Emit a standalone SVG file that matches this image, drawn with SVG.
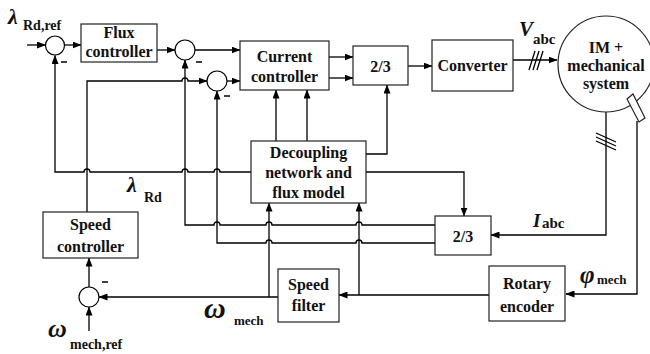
<svg xmlns="http://www.w3.org/2000/svg" width="650" height="354" viewBox="0 0 650 354">
  <defs>
    <marker id="arr" markerUnits="userSpaceOnUse" markerWidth="9" markerHeight="7" refX="8.5" refY="3.5" orient="auto">
      <path d="M0,0 L9,3.5 L0,7 z" fill="#000"/>
    </marker>
    <style>
      .box { fill: #fff; stroke: #222; stroke-width: 1.2; }
      .sum { fill: #fff; stroke: #000; stroke-width: 1.2; }
      .ln { fill: none; stroke: #000; stroke-width: 1.3; }
      .a { marker-end: url(#arr); }
      .t { font-family: "Liberation Serif", "Times New Roman", serif; font-weight: bold; font-size: 16px; text-anchor: middle; fill: #111; }
      .lbl { font-family: "Liberation Serif", "Times New Roman", serif; font-weight: bold; fill: #111; }
      .gk { font-style: italic; }
      .sub { font-style: normal; }
      .minus { stroke: #000; stroke-width: 1.5; }
    </style>
  </defs>

  <rect width="650" height="354" fill="#fff"/>

  <!-- connectors -->
  <g id="connectors">
    <path class="ln a" d="M27,45 H45.5"/>
    <path class="ln a" d="M64.5,45 H81"/>
    <path class="ln a" d="M157,50 H175"/>
    <path class="ln a" d="M195,50 H240"/>
    <path class="ln a" d="M87,212 V81 H182 a3,3 0 0 1 6,0 H207"/>
    <path class="ln a" d="M227,81 H240"/>
    <path class="ln a" d="M329,57 H353"/>
    <path class="ln a" d="M329,78 H353"/>
    <path class="ln a" d="M408,66 H432"/>
    <path class="ln a" d="M513,60 H557"/>
    <path class="ln a" d="M606,112 V235 H491"/>
    <path class="ln a" d="M637,121 V294 H566"/>
    <path class="ln a" d="M489,295 H339"/>
    <path class="ln a" d="M359,295 V203"/>
    <path class="ln a" d="M278,297 H99"/>
    <path class="ln a" d="M269,297 V203"/>
    <path class="ln a" d="M89,287 V258"/>
    <path class="ln a" d="M89,331 V307"/>
    <path class="ln a" d="M276,141 V90"/>
    <path class="ln a" d="M307,141 V90"/>
    <path class="ln a" d="M366,154 H387 V85"/>
    <path class="ln a" d="M366,172 H464 V216"/>
    <!-- flux feedback to the first summing point -->
    <path class="ln a" d="M251,172 H220 a3,3 0 0 0 -6,0 H188 a3,3 0 0 0 -6,0 H90 a3,3 0 0 0 -6,0 H55 V55.5"/>
    <!-- d-axis current feedback -->
    <path class="ln a" d="M435,225 H362 a3,3 0 0 0 -6,0 H272 a3,3 0 0 0 -6,0 H220 a3,3 0 0 0 -6,0 H185 V60"/>
    <!-- q-axis current feedback -->
    <path class="ln a" d="M435,243 H362 a3,3 0 0 0 -6,0 H272 a3,3 0 0 0 -6,0 H217 V91"/>
    <!-- three-phase hatches -->
    <path class="ln" d="M529,70 L535,51 M533,70 L539,51 M537,70 L543,51"/>
    <path class="ln" d="M596,133 L616,142 M596,137 L616,146 M596,141 L616,150"/>
  </g>

  <!-- summing points -->
  <g id="sum1"><circle class="sum" cx="55" cy="45.5" r="9.5"/><line class="minus" x1="61" y1="62" x2="67" y2="62"/></g>
  <g id="sum2"><circle class="sum" cx="185" cy="50" r="10"/><line class="minus" x1="196" y1="62" x2="202" y2="62"/></g>
  <g id="sum3"><circle class="sum" cx="217" cy="81" r="10"/><line class="minus" x1="224" y1="96" x2="230" y2="96"/></g>
  <g id="sum4"><circle class="sum" cx="89" cy="297" r="10"/><line class="minus" x1="102" y1="282" x2="108" y2="282"/></g>

  <!-- blocks -->
  <g id="flux-controller">
    <rect class="box" x="81" y="24" width="76" height="38"/>
    <text class="t" x="119" y="38">Flux</text>
    <text class="t" x="119" y="57">controller</text>
  </g>
  <g id="current-controller">
    <rect class="box" x="240" y="41" width="89" height="49"/>
    <text class="t" x="284.5" y="62">Current</text>
    <text class="t" x="284.5" y="82">controller</text>
  </g>
  <g id="dq-abc">
    <rect class="box" x="353" y="46" width="55" height="39"/>
    <text class="t" x="380.5" y="72">2/3</text>
  </g>
  <g id="converter">
    <rect class="box" x="432" y="40" width="81" height="51"/>
    <text class="t" x="472.5" y="71">Converter</text>
  </g>
  <g id="motor">
    <circle class="box" cx="606" cy="64" r="48"/>
    <text class="t" x="606" y="53">IM +</text>
    <text class="t" x="606" y="71">mechanical</text>
    <text class="t" x="606" y="89">system</text>
    <polygon points="627,99 633,94 645,118 639,122" fill="#fff" stroke="#222" stroke-width="1.2"/>
  </g>
  <g id="decoupling">
    <rect class="box" x="251" y="141" width="115" height="62"/>
    <text class="t" x="308.5" y="158">Decoupling</text>
    <text class="t" x="308.5" y="178">network and</text>
    <text class="t" x="308.5" y="198">flux model</text>
  </g>
  <g id="abc-dq">
    <rect class="box" x="435" y="216" width="56" height="39"/>
    <text class="t" x="463" y="242">2/3</text>
  </g>
  <g id="speed-controller">
    <rect class="box" x="43" y="212" width="95" height="46"/>
    <text class="t" x="90.5" y="230">Speed</text>
    <text class="t" x="90.5" y="252">controller</text>
  </g>
  <g id="speed-filter">
    <rect class="box" x="278" y="269" width="61" height="53"/>
    <text class="t" x="308.5" y="290">Speed</text>
    <text class="t" x="308.5" y="311">filter</text>
  </g>
  <g id="rotary-encoder">
    <rect class="box" x="489" y="266" width="76" height="55"/>
    <text class="t" x="527" y="289">Rotary</text>
    <text class="t" x="527" y="312">encoder</text>
  </g>

  <!-- signal labels -->
  <g id="labels">
    <text class="lbl" x="8" y="24"><tspan class="gk" style="font-size:22px">λ</tspan><tspan class="sub" style="font-size:14px" x="23" y="30">Rd,ref</tspan></text>
    <text class="lbl" x="127" y="192"><tspan class="gk" style="font-size:22px">λ</tspan><tspan class="sub" style="font-size:14px" x="144" y="202">Rd</tspan></text>
    <text class="lbl gk" x="519" y="36" style="font-size:21px">V</text>
    <text class="lbl sub" x="533" y="44" style="font-size:15px">abc</text>
    <text class="lbl" x="533" y="227"><tspan class="gk" style="font-size:19px">I</tspan><tspan class="sub" style="font-size:15px" x="542" y="228">abc</tspan></text>
    <text class="lbl" x="580" y="283"><tspan class="gk" style="font-size:25px">φ</tspan><tspan class="sub" style="font-size:13px" x="597" y="284">mech</tspan></text>
    <text class="lbl" x="204" y="318"><tspan class="gk" style="font-size:30px">ω</tspan><tspan class="sub" style="font-size:13px" x="234" y="325">mech</tspan></text>
    <text class="lbl" x="48" y="337"><tspan class="gk" style="font-size:26px">ω</tspan><tspan class="sub" style="font-size:14px" x="70" y="349">mech,ref</tspan></text>
  </g>
</svg>
